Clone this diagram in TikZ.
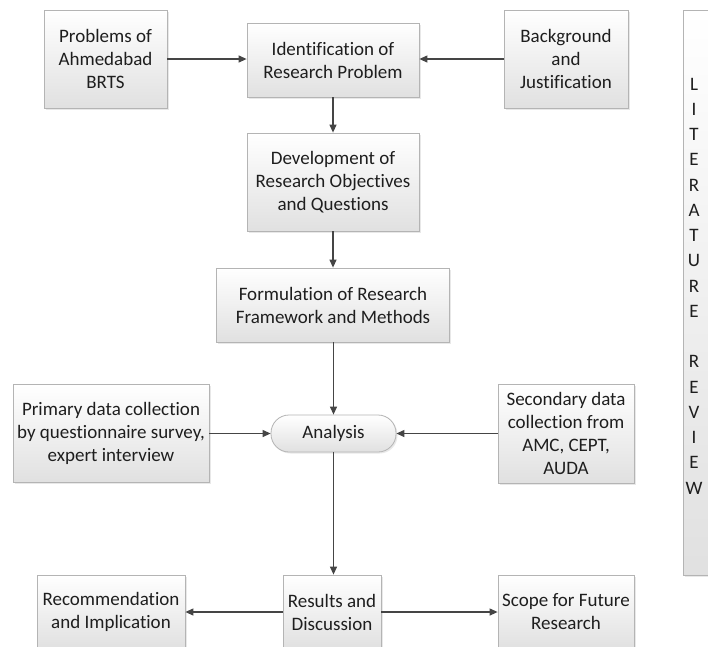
\documentclass[tikz,border=0pt]{standalone}
\usepackage{fontspec}
\setmainfont{Carlito}[Ligatures=NoCommon]
\usetikzlibrary{arrows.meta,shadows,calc}
\definecolor{boxline}{HTML}{B4B4B4}
\definecolor{arrowc}{HTML}{454545}
\definecolor{txt}{HTML}{1E1E1E}
\tikzset{
  box/.style={draw=boxline, line width=0.8pt, top color=white, bottom color=black!12,
    align=center, inner sep=2pt, text=txt, font=\fontsize{19}{23}\selectfont,
    drop shadow={opacity=0.18, shadow xshift=1.5pt, shadow yshift=-1.5pt}},
  pill/.style={box, rounded corners=18pt},
  arr/.style={draw=arrowc, line width=1.2pt, -{Triangle[length=8pt,width=7pt]}}
}
\begin{document}
\begin{tikzpicture}[x=1pt,y=-1pt]
\useasboundingbox (0,0) rectangle (708,646);
\clip (0,0) rectangle (708,646);
\fill[white] (0,0) rectangle (708,646);
% nodes
\node[box, minimum width=123pt, minimum height=98pt] (prob) at (105.5,59) {Problems of\\Ahmedabad\\BRTS};
\node[box, minimum width=172pt, minimum height=74pt] (ident) at (333,60) {Identification of\\Research Problem};
\node[box, minimum width=124pt, minimum height=98pt] (back) at (566,59) {Background\\and\\Justification};
\node[box, minimum width=172pt, minimum height=98pt] (dev) at (333,182) {Development of\\Research Objectives\\and Questions};
\node[box, minimum width=233pt, minimum height=74pt] (form) at (333,305) {Formulation of Research\\Framework and Methods};
\node[pill, minimum width=125pt, minimum height=37pt] (anal) at (333.5,433.5) {Analysis};
\node[box, minimum width=196pt, minimum height=98pt] (prim) at (111,433.5) {Primary data collection\\by questionnaire survey,\\expert interview};
\node[box, minimum width=136pt, minimum height=99pt] (sec) at (566,433.5) {Secondary data\\collection from\\AMC, CEPT,\\AUDA};
\node[box, minimum width=148pt, minimum height=74pt] (rec) at (111,612) {Recommendation\\and Implication};
\node[box, minimum width=98pt, minimum height=74pt] (res) at (332,612) {Results and\\Discussion};
\node[box, minimum width=136pt, minimum height=74pt] (scope) at (566,612) {Scope for Future\\Research};
\node[box, minimum width=80pt, minimum height=565pt, anchor=north west, text width=0pt] (lit) at (683,10) {};
\node[align=center, text=txt, font=\fontsize{19}{25.25}\selectfont] (littext) at (694,286)
  {L\\I\\T\\E\\R\\A\\T\\U\\R\\E\\[25.25pt]R\\E\\V\\I\\E\\W};
% connectors
\draw[arr] (prob.east) -- (prob.east -| ident.west);
\draw[arr] (back.west) -- (back.west -| ident.east);
\draw[arr] (ident) -- (dev);
\draw[arr] (dev) -- (form);
\draw[arr] (form.south -| anal.north) -- (anal.north);
\draw[arr] (prim) -- (anal);
\draw[arr] (sec) -- (anal);
\draw[arr] (anal.south) -- (anal.south |- res.north);
\draw[arr] (res) -- (rec);
\draw[arr] (res) -- (scope);
\end{tikzpicture}
\end{document}
